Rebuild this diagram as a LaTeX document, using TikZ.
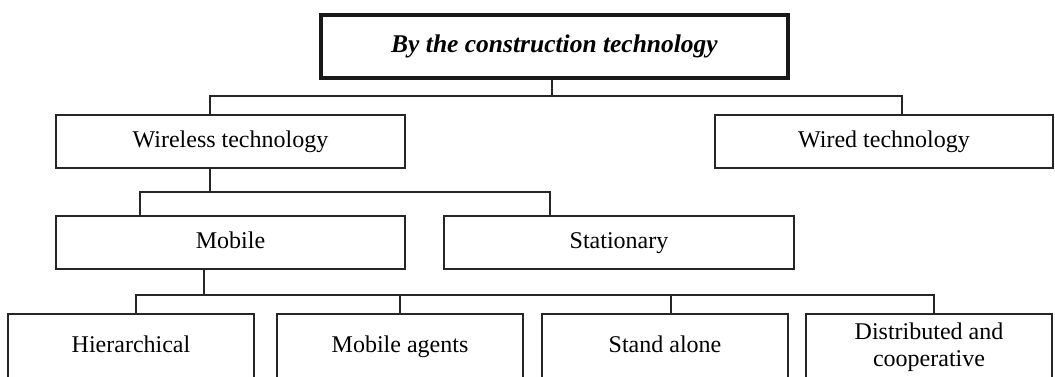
\documentclass[tikz,border=0pt]{standalone}
\usepackage{fontspec}
\setmainfont{Liberation Serif}
\begin{document}
\begin{tikzpicture}[x=1pt,y=-1pt,
  basebox/.style={draw=black!85, line width=1.2pt, inner sep=0pt,
    font=\fontsize{24}{27}\selectfont, align=center},
  box/.style={basebox, text height=16pt, text depth=5pt},
  titlebox/.style={draw=black!90, line width=3.3pt, inner sep=0pt,
    text height=17pt, text depth=5pt,
    font=\fontsize{25.5}{28}\selectfont\bfseries\itshape},
  conn/.style={draw=black!85, line width=1.2pt}]
\useasboundingbox (0,0) rectangle (1055,376);
\clip (0,0) rectangle (1055,376);
% nodes
\node[titlebox, minimum width=467pt, minimum height=63pt] (top) at (554.5,46.5) {By the construction technology};
\node[box, minimum width=349pt, minimum height=53pt] (wireless) at (230.5,141.5) {Wireless technology};
\node[box, minimum width=338pt, minimum height=53pt] (wired) at (884,141.5) {Wired technology};
\node[box, minimum width=349pt, minimum height=53pt] (mobile) at (230.5,242.5) {Mobile};
\node[box, minimum width=350pt, minimum height=53pt] (stationary) at (619,242.5) {Stationary};
\node[box, minimum width=246pt, minimum height=66pt] (hier) at (131,347) {Hierarchical};
\node[box, minimum width=246pt, minimum height=66pt] (agents) at (400,347) {Mobile agents};
\node[box, minimum width=246pt, minimum height=66pt] (alone) at (665,347) {Stand alone};
\node[basebox, minimum width=246pt, minimum height=66pt] (distrib) at (929,347) {Distributed and\\cooperative};
% bus coordinates
\coordinate (busA) at (0,96);
\coordinate (busB) at (0,192);
\coordinate (busC) at (0,295);
% connectors level 1
\draw[conn] ([xshift=-2.5pt]top.south) -- ([xshift=-2.5pt]top.south |- busA);
\draw[conn] ([xshift=-20.5pt]wireless.north) |- ([xshift=18pt]wired.north |- busA) -- ([xshift=18pt]wired.north);
% level 2
\draw[conn] ([xshift=-20.5pt]wireless.south) -- ([xshift=-20.5pt]wireless.south |- busB);
\draw[conn] ([xshift=-90.5pt]mobile.north) |- ([xshift=-69pt]stationary.north |- busB) -- ([xshift=-69pt]stationary.north);
% level 3
\draw[conn] ([xshift=-26.5pt]mobile.south) -- ([xshift=-26.5pt]mobile.south |- busC);
\draw[conn] ([xshift=5pt]hier.north) |- ([xshift=5pt]distrib.north |- busC) -- ([xshift=5pt]distrib.north);
\draw[conn] (agents.north) -- (agents.north |- busC);
\draw[conn] ([xshift=6pt]alone.north) -- ([xshift=6pt]alone.north |- busC);
\end{tikzpicture}
\end{document}
